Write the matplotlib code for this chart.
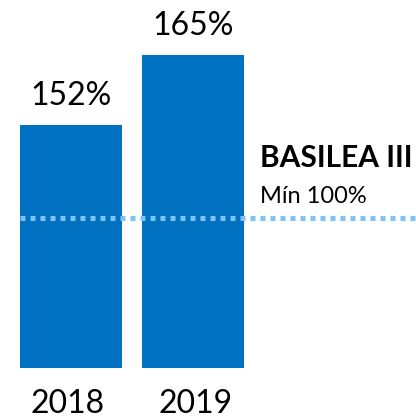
import numpy as np
import matplotlib
matplotlib.use("Agg")
import matplotlib.pyplot as plt

plt.rcParams['font.family'] = ['Lato', 'DejaVu Sans']

years = ['2018', '2019']
ratios = [152, 165]
labels = ['152%', '165%']
minimum = 100
title = 'BASILEA III'
subtitle = 'Mín 100%'

bar_color = '#0070C0'
line_color = '#7DC3F7'

# the infographic bars are not drawn to a linear scale; mimic it with a piecewise scale
knots = [0, 100, 152, 165, 200]
heights = [0, 150, 243, 313, 501]

def fwd(v):
    return np.interp(v, knots, heights)

def inv(h):
    return np.interp(h, heights, knots)

fig = plt.figure(figsize=(4.16, 4.16), dpi=100)
ax = fig.add_axes([0, 48 / 416, 1, 368 / 416])
ax.set_yscale('function', functions=(fwd, inv))

x = np.arange(len(years))
bars = ax.bar(x, ratios, width=0.836, color=bar_color, zorder=1)
ax.set_xlim(-0.582, 2.828)
ax.set_ylim(0, inv(368))

for b, lab in zip(bars, labels):
    ax.annotate(lab, (b.get_x() + b.get_width() / 2, b.get_height()),
                xytext=(0, 21), textcoords='offset points',
                ha='center', va='center', fontsize=23)

# year labels sit slightly off-centre in the original
trans = ax.get_xaxis_transform()
for xi, yr, dx in zip(x, years, [-0.03, 0.02]):
    ax.text(xi + dx, -0.098, yr, transform=trans, ha='center', va='center',
            fontsize=23, clip_on=False)

ax.axhline(minimum, xmin=20 / 416, xmax=1, color=line_color, lw=3.6,
           linestyle=(0, (1, 1)), dash_capstyle='butt', zorder=2)

ax.text(1.549, 0.571, title, transform=trans, ha='left', va='center',
        fontsize=21.5, fontweight='bold')
ax.text(1.549, 0.465, subtitle, transform=trans, ha='left', va='center',
        fontsize=17)

ax.axis('off')
fig.savefig('out.png', dpi=100)
